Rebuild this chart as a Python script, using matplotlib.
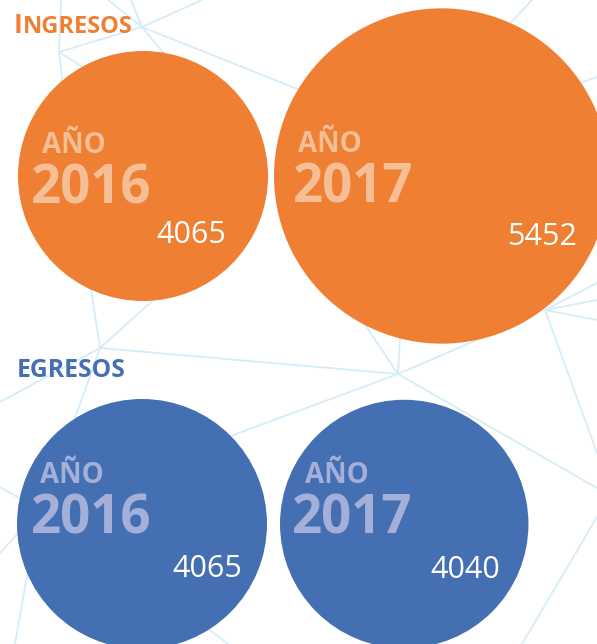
import matplotlib
matplotlib.use("Agg")
import matplotlib.pyplot as plt
from matplotlib.patches import Circle

# ---------------- data ----------------
groups = ["INGRESOS", "EGRESOS"]
years = ["2016", "2017"]
ingresos = [4065, 5452]
egresos = [4065, 4040]
year_prefix = "AÑO"

# ---------------- style / layout ----------------
ORANGE = "#EE7F33"
BLUE = "#4470B3"
ORANGE_LIGHT = "#F5BE94"
BLUE_LIGHT = "#A5B0DA"
NET = "#D6ECF8"
W, H = 597, 644
SCALE = 125.0 / 4065.0          # radius in px per unit (radius proportional to value)

# circle left edges and centre rows (px)
row_y = [176, 524]
left_edges = [[18, 274], [17, 280]]
# label anchors: (AÑO x, AÑO baseline, year x, year baseline, value right x, value baseline)
label_pos = [
    [(42, 153, 31, 203, 226, 243), (298, 152, 293, 202, 577, 245)],
    [(40, 483, 31, 533, 242, 577), (305, 483, 292, 533, 500, 578)],
]
title_pos = [(14, 33), (17, 377)]

# decorative network background (nodes + edges)
nodes = {
    "A": (142, 27), "B0": (108, 0), "B1": (131, 0), "B2": (202, 0),
    "D": (59, 52), "D0": (61, 0), "A1": (190, 85), "A2": (330, 102),
    "D1": (66, 110), "D2": (100, 78),
    "G0": (532, 0), "G1": (490, 45), "R0": (597, 77), "R1": (560, 90),
    "L": (100, 348), "L1": (88, 270), "L2": (170, 285), "L3": (0, 402), "L4": (60, 460),
    "K": (398, 374), "K1": (355, 310), "K2": (401, 320), "K3": (500, 330),
    "K4": (220, 440), "K5": (597, 488),
    "M": (545, 310), "M1": (597, 300), "M2": (597, 320), "M3": (597, 283), "M4": (597, 453),
    "P0": (0, 487), "P1": (40, 510), "Q0": (0, 553), "Q1": (30, 520),
    "S0": (15, 644), "S1": (35, 530), "T0": (190, 615), "T1": (228, 644),
    "U0": (597, 517), "U1": (522, 644),
}
edges = [("A", "B0"), ("A", "B1"), ("A", "B2"), ("A", "D"), ("A", "A1"), ("A", "A2"),
         ("D", "D0"), ("D", "D1"), ("D", "D2"), ("G0", "G1"), ("R0", "R1"),
         ("L", "L1"), ("L", "L2"), ("L", "K"), ("L", "L3"), ("L", "L4"),
         ("K", "K1"), ("K", "K2"), ("K", "K3"), ("K", "K4"), ("K", "K5"),
         ("M", "M1"), ("M", "M2"), ("M", "M3"), ("M", "M4"),
         ("P0", "P1"), ("Q0", "Q1"), ("S0", "S1"), ("T0", "T1"), ("U0", "U1")]

plt.rcParams["font.family"] = ["Open Sans", "DejaVu Sans"]

fig = plt.figure(figsize=(W / 100, H / 100), dpi=100)
ax = fig.add_axes([0, 0, 1, 1])
ax.set_xlim(0, W)
ax.set_ylim(H, 0)
ax.axis("off")

for a, b in edges:
    (x1, y1), (x2, y2) = nodes[a], nodes[b]
    ax.plot([x1, x2], [y1, y2], color=NET, lw=1.3, zorder=0, solid_capstyle="round")

series = [ingresos, egresos]
fills = [ORANGE, BLUE]
lights = [ORANGE_LIGHT, BLUE_LIGHT]

for gi, (vals, fc, lc) in enumerate(zip(series, fills, lights)):
    for yi, (yr, v) in enumerate(zip(years, vals)):
        r = v * SCALE
        cx = left_edges[gi][yi] + r
        cy = row_y[gi]
        ax.add_patch(Circle((cx, cy), r, facecolor=fc, edgecolor="none", zorder=2))
        ax_x, ax_b, yr_x, yr_b, v_x, v_b = label_pos[gi][yi]
        ax.text(ax_x, ax_b, year_prefix, color=lc, fontsize=20, fontweight="bold",
                ha="left", va="baseline", zorder=3)
        ax.text(yr_x, yr_b, yr, color=lc, fontsize=38, fontweight="bold",
                ha="left", va="baseline", zorder=3)
        ax.text(v_x, v_b, f"{v}", color="white", fontsize=22,
                ha="right", va="baseline", zorder=3)

# titles
tx, tb = title_pos[0]
t1 = ax.text(tx, tb, groups[0][0], color=ORANGE, fontsize=19, fontweight="bold",
             ha="left", va="baseline")
fig.canvas.draw()
bb = t1.get_window_extent()
inv = ax.transData.inverted()
x_end = inv.transform((bb.x1, bb.y0))[0]
ax.text(x_end + 0.5, tb, groups[0][1:], color=ORANGE, fontsize=17, fontweight="bold",
        ha="left", va="baseline")
tx, tb = title_pos[1]
ax.text(tx, tb, groups[1], color=BLUE, fontsize=17.8, fontweight="bold",
        ha="left", va="baseline")

fig.savefig("out.png", dpi=100)
